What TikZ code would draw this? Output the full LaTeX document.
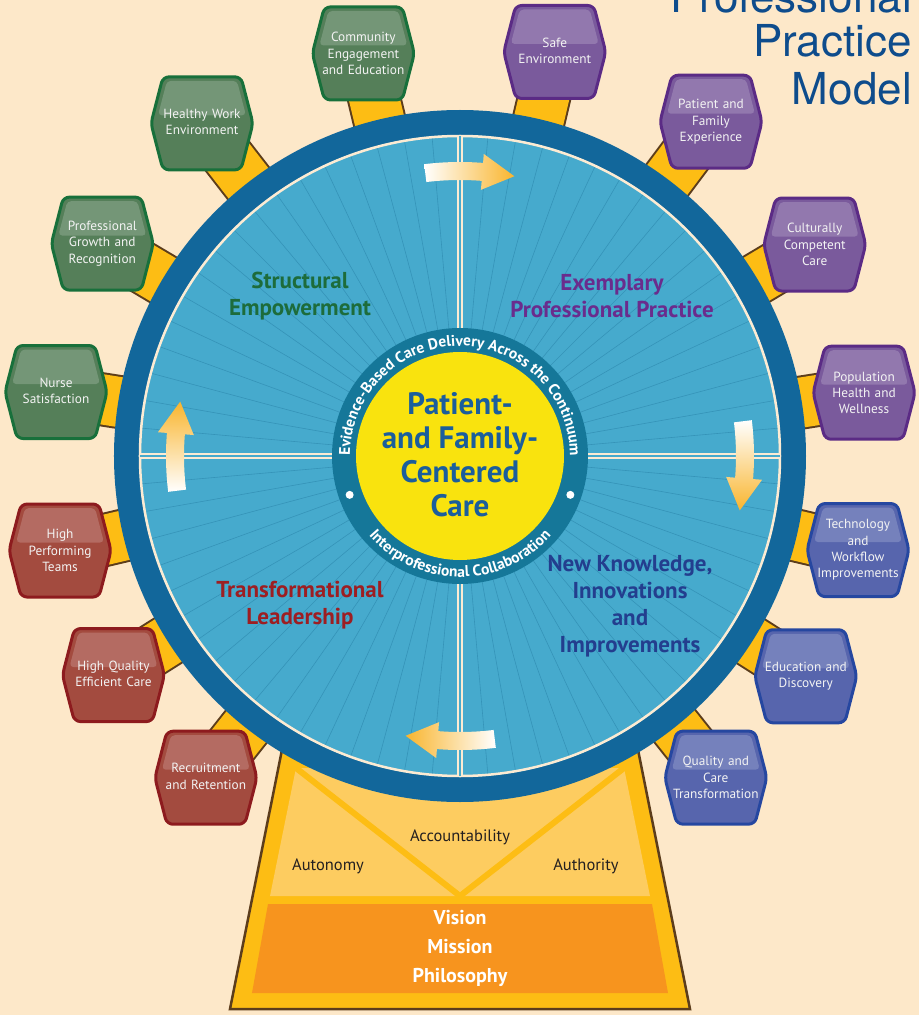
\documentclass[tikz,border=0pt]{standalone}
\usepackage{fontspec}
\setmainfont{PT Sans}
\newfontfamily\titlefont{TeX Gyre Heros}
\usetikzlibrary{decorations.text}

\definecolor{paper}{HTML}{FDE8C9}
\definecolor{ring}{HTML}{12679B}
\definecolor{disk}{HTML}{46AACD}
\definecolor{spk}{HTML}{3593B8}
\definecolor{rim}{HTML}{FCEBD3}
\definecolor{teal}{HTML}{157799}
\definecolor{sun}{HTML}{F9E30E}
\definecolor{coreblue}{HTML}{1B5E9C}
\definecolor{gold}{HTML}{FDBD14}
\definecolor{pale}{HTML}{FDCC60}
\definecolor{deeporange}{HTML}{F7941E}
\definecolor{barline}{HTML}{5C3D1C}
\definecolor{ink}{HTML}{231F20}
\definecolor{agold}{HTML}{F9B52E}
\definecolor{titleblue}{HTML}{0E4C8C}
\definecolor{segreen}{HTML}{1D6C3B}
\definecolor{eppurple}{HTML}{6A2C8D}
\definecolor{tlred}{HTML}{9D1E22}
\definecolor{nkblue}{HTML}{233E8E}
\definecolor{hgfill}{HTML}{557F59}
\definecolor{hgline}{HTML}{18703B}
\definecolor{hpfill}{HTML}{7A5A9C}
\definecolor{hpline}{HTML}{5B2B85}
\definecolor{hrfill}{HTML}{A34B3F}
\definecolor{hrline}{HTML}{8D1B1E}
\definecolor{hbfill}{HTML}{5765AD}
\definecolor{hbline}{HTML}{2647A0}
\definecolor{hextext}{HTML}{F3F3F3}

\newcommand\ringfont{\color{white}\bfseries\fontsize{15.5}{15.5}\selectfont}

\pgfdeclarelayer{bg}
\pgfdeclarelayer{bars}
\pgfdeclarelayer{hex}
\pgfsetlayers{bg,bars,hex,main}

\tikzset{
  lbl/.style={inner sep=0pt, text width=98pt, align=center, text=hextext,
    font=\fontsize{13.3}{16.3}\selectfont},
  hexa/.style 2 args={fill=#1, draw=#2, line width=3pt, rounded corners=6pt},
  hg/.style={hexa={hgfill}{hgline}},
  hp/.style={hexa={hpfill}{hpline}},
  hr/.style={hexa={hrfill}{hrline}},
  hb/.style={hexa={hbfill}{hbline}},
  two/.style={text depth=19pt},
  bar/.style={draw=barline, line width=2pt, double=gold, double distance=50pt},
  quad/.style={font=\bfseries\fontsize{23}{27}\selectfont, align=center},
  base/.style={font=\fontsize{16.5}{18}\selectfont, text=ink},
  vmp/.style={font=\bfseries\fontsize{20}{20}\selectfont, text=white},
  ttl/.style={font=\titlefont\fontsize{44}{44}\selectfont, text=titleblue, anchor=base east, inner sep=0pt},
  ar0/.style={left color=white, right color=agold},
  ar1/.style={top color=white, bottom color=agold},
  ar2/.style={right color=white, left color=agold},
  ar3/.style={bottom color=white, top color=agold}
}

\begin{document}
\begin{tikzpicture}[x=1pt, y=1pt]
\begin{pgfonlayer}{bg}
  \fill[paper] (-460,-559) rectangle (459,456);
\end{pgfonlayer}
\useasboundingbox (-460,-559) rectangle (459,456);

\draw[barline, line width=2.5pt, fill=gold] (-168,-244) -- (168,-244) -- (230,-553) -- (-230,-553) -- cycle;
\fill[pale] (-164,-312) -- (164,-312) -- (190,-440) -- (-190,-440) -- cycle;
\draw[gold, line width=6pt] (-164,-312) -- (0,-440) -- (164,-312);
\fill[deeporange] (-192,-448) -- (192,-448) -- (208,-537) -- (-208,-537) -- cycle;
\node[base] (ac) at (0,-381) {Accountability};
\node[base] (au) at (-132,-410) {Autonomy};
\node[base] (at) at (126,-410) {Authority};
\node[vmp] (vi) at (0,-462) {Vision};
\node[vmp] (mi) at (0,-491) {Mission};
\node[vmp] (ph) at (0,-521) {Philosophy};

\node[circle, fill=ring, minimum size=692pt, inner sep=0pt] (w) at (0,0) {};
\fill[disk] (w.center) circle (321);
\foreach \a in {0,5,...,355}
  \draw[spk, line width=0.6pt] (\a:128) -- (\a:320);
\draw[rim, line width=2.5pt] (w.center) circle (320);
\draw[rim, line width=2pt, double=disk, double distance=2.5pt] (0,-320) -- (0,320);
\draw[rim, line width=2pt, double=disk, double distance=2.5pt] (-320,0) -- (320,0);

\foreach \o/\c in {0/ar0, -90/ar1, 180/ar2, 90/ar3}
  \shade[\c] ({97+\o}:276) arc[start angle={97+\o}, end angle={85.5+\o}, radius=276]
    -- ({85.5+\o}:267) -- ({79+\o}:285) -- ({85.5+\o}:303) -- ({85.5+\o}:294)
    arc[start angle={85.5+\o}, end angle={97+\o}, radius=294] -- cycle;

\node[quad, text=segreen] (se) at (-160,160) {Structural\\Empowerment};
\node[quad, text=eppurple] (ep) at (152,160) {Exemplary\\Professional Practice};
\node[quad, text=tlred] (tl) at (-160,-149) {Transformational\\Leadership};
\node[quad, text=nkblue] (nk) at (170,-150) {New Knowledge,\\Innovations\\and\\Improvements};

\node[circle, fill=teal, minimum size=256pt, inner sep=0pt] (r) at (0,0) {};
\node[circle, fill=sun, minimum size=208pt, inner sep=0pt] (z) at (0,0) {};
\node[text=coreblue, align=center, font=\bfseries\fontsize{31}{34}\selectfont] (pf) at (0,1) {Patient-\\and Family-\\Centered\\Care};
\path[decorate, decoration={text along path, text align=center,
  text={|\ringfont|Evidence-Based Care Delivery Across the Continuum}}]
  (188:110) arc[start angle=188, end angle=-8, radius=110];
\path[decorate, decoration={text along path, text align=center,
  text={|\ringfont|Interprofessional Collaboration}}]
  (212:121) arc[start angle=212, end angle=328, radius=121];
\fill[white] (199.4:117) circle (4);
\fill[white] (340.6:117) circle (4);

\node[lbl] (h1) at (103.5:414) {Community\\Engagement\\and Education};
\node[lbl, two] (h2) at (127.8:421) {Healthy Work\\Environment};
\node[lbl] (h3) at (149.3:416) {Professional\\Growth and\\Recognition};
\node[lbl, two] (h4) at (171:409) {Nurse\\Satisfaction};
\node[lbl] (h5) at (193.3:411) {High\\Performing\\Teams};
\node[lbl, two] (h6) at (212.3:410) {High Quality\\Efficient Care};
\node[lbl, two] (h7) at (231.7:410) {Recruitment\\and Retention};
\node[lbl, two] (h8) at (76.8:415) {Safe\\Environment};
\node[lbl] (h9) at (53.1:418) {Patient and\\Family\\Experience};
\node[lbl] (h10) at (30.8:413) {Culturally\\Competent\\Care};
\node[lbl] (h11) at (8.9:409) {Population\\Health and\\Wellness};
\node[lbl] (h12) at (-13.3:409) {Technology\\and\\Workflow\\Improvements};
\node[lbl, two] (h13) at (-32.5:410) {Education and\\Discovery};
\node[lbl] (h14) at (-51.5:411) {Quality and\\Care\\Transformation};

\begin{pgfonlayer}{hex}
  \foreach \i/\s/\f in {1/hg/hgfill, 2/hg/hgfill, 3/hg/hgfill, 4/hg/hgfill,
      5/hr/hrfill, 6/hr/hrfill, 7/hr/hrfill, 8/hp/hpfill, 9/hp/hpfill,
      10/hp/hpfill, 11/hp/hpfill, 12/hb/hbfill, 13/hb/hbfill, 14/hb/hbfill} {
    \filldraw[\s, shift={(h\i.center)}]
      (-39,46.5) -- (39,46.5) -- (51,0) -- (39,-46.5) -- (-39,-46.5) -- (-51,0) -- cycle;
    \fill[\f!82!white, rounded corners=4pt, shift={(h\i.center)}]
      (-35,42.5) -- (35,42.5) -- (44,8) -- (-44,8) -- cycle;
  }
\end{pgfonlayer}

\begin{pgfonlayer}{bars}
  \foreach \i in {1,...,14}
    \draw[bar] (w.center) -- (h\i.center);
\end{pgfonlayer}

\node[ttl] (t1) at (452,443) {Professional};
\node[ttl] (t2) at (452,399) {Practice};
\node[ttl] (t3) at (452,351) {Model};
\end{tikzpicture}
\end{document}
